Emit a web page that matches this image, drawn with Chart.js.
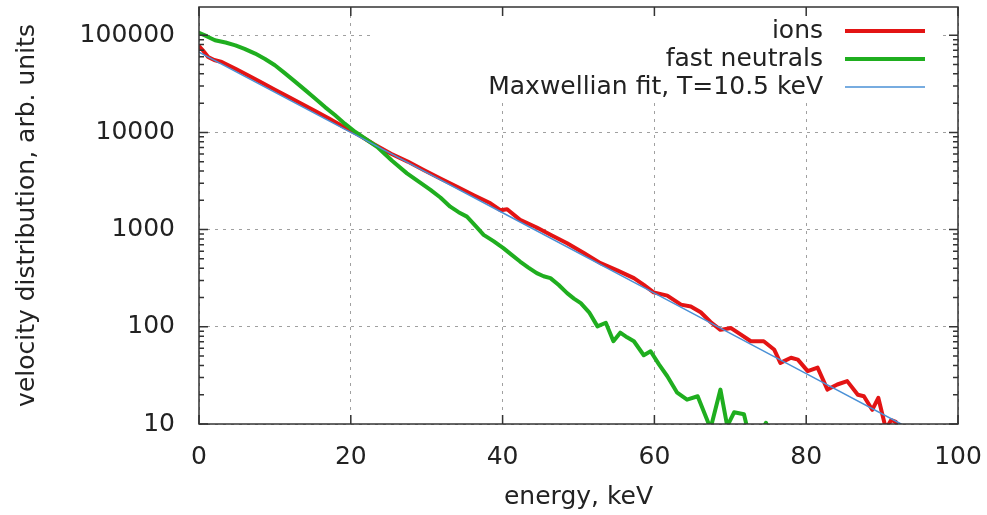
<!DOCTYPE html>
<html>
<head>
<meta charset="utf-8">
<title>velocity distribution</title>
<script src="https://cdn.jsdelivr.net/npm/chart.js@4.4.1/dist/chart.umd.min.js"></script>
<style>
  html, body { margin: 0; padding: 0; background: #fff; }
  #wrap { width: 987px; height: 515px; }
</style>
</head>
<body>
<div id="wrap"><canvas id="chart-energy" width="987" height="515"></canvas></div>
<script>
//IONS DATA (energy keV / arb. units)
var ionEnergy = [0, 0.5, 1.2, 2, 3, 4.8, 6.5, 8.3, 10, 11.7, 13.5, 15.3, 17, 18.8, 21, 23, 25.3, 27.5, 29.6, 31.8,
  34, 36.2, 38.4, 39.7, 40.6, 42.3, 44.5, 46.5, 48.5, 50.7, 52.9, 55.1, 57.3, 58.6, 59.9, 61.7, 63.5, 64.8, 66.1, 67.4,
  68.7, 70.1, 71.4, 72.7, 74.4, 75.8, 76.6, 78, 78.9, 80.2, 81.5, 82.8, 84.1, 85.4, 86.8, 87.6, 88.7, 89.5, 90.5, 91.2,
  91.8, 92.4];
var ionValues = [77000, 70000, 59700, 55600, 53000, 45200, 38500, 32400, 27500, 23400, 19700, 16600, 14100, 11700, 9440,
  7590, 6030, 5010, 4100, 3350, 2760, 2260, 1865, 1585, 1620, 1260, 1050, 870, 724, 575, 452, 380, 317, 270, 226, 209,
  169, 162, 141, 112, 93, 97, 83, 71, 71, 58, 42.5, 48, 46, 35, 38, 22.6, 25.5, 27.6, 20, 19.3, 14, 18.6, 8.9, 11,
  10.5, 7];

//FAST NEUTRALS DATA
var neutralEnergy = [0, 1, 2.1, 3.5, 4.8, 6, 7.4, 8.7, 10, 11.3, 12.7, 14, 15.3, 16.6, 17.9, 19.2, 20.6, 22, 23.5, 25.4,
  27.4, 29, 30.5, 31.8, 33.1, 34.2, 35.3, 36.4, 37.5, 38.8, 40.1, 41.2, 42.3, 43.4, 44.5, 45.4, 46.3, 47.4, 48.5, 49.4,
  50.3, 51.4, 52.5, 53.6, 54.6, 55.5, 56.4, 57.3, 58.6, 59.5, 60.6, 61.7, 63, 64.3, 65.7, 67.4, 68.7, 69.6, 70.5, 71.8,
  72.4, 73.6, 74.7, 75.8];
var neutralValues = [106000, 97700, 88700, 84100, 78700, 72400, 64700, 56900, 49100, 40700, 33100, 27200, 22300, 18200,
  15100, 12300, 10100, 8500, 7080, 5130, 3790, 3090, 2560, 2140, 1720, 1510, 1360, 1100, 883, 760, 644, 550, 469, 407,
  356, 331, 317, 269, 222, 195, 175, 141, 101, 110, 71, 87, 78, 71, 51, 56, 41, 31, 21, 17.8, 19.3, 9, 22.6, 9.5, 13.2,
  12.6, 8, 7, 10.3, 6];

//MAXWELLIAN FIT
var fitEnergy = [0, 20, 40, 60, 80, 92.5];
var fitValues = [67000, 10000, 1490, 222, 33, 10];

//AXES
var xTicks = [0, 20, 40, 60, 80, 100];
var yTicks = [10, 100, 1000, 10000, 100000];
var seriesLabels = ["ions", "fast neutrals", "Maxwellian fit, T=10.5 keV"];
var xTitle = "energy, keV";
var yTitle = "velocity distribution, arb. units";

var FONT = "DejaVu Sans";
var TEXT = "#222";

function toPoints(xs, ys) {
  return xs.map(function (x, i) {
    return { x: x, y: ys[i] };
  });
}

//LEGEND + FRAME (gnuplot look)
var gnuplotLook = {
  id: "gnuplotLook",
  beforeDatasetsDraw: function (chart) {
    var ctx = chart.ctx;
    ctx.save();
    ctx.fillStyle = "#fff";
    ctx.fillRect(372, 9, 569, 93);
    ctx.font = "25px '" + FONT + "'";
    ctx.fillStyle = TEXT;
    ctx.textAlign = "right";
    ctx.textBaseline = "middle";
    chart.data.datasets.forEach(function (ds, i) {
      var y = 31 + i * 28;
      ctx.fillText(ds.label, 823, y);
      ctx.strokeStyle = ds.borderColor;
      ctx.lineWidth = ds.borderWidth;
      ctx.beginPath();
      ctx.moveTo(845, y);
      ctx.lineTo(925, y);
      ctx.stroke();
    });
    ctx.restore();
  },
  afterDatasetsDraw: function (chart) {
    var ctx = chart.ctx;
    var a = chart.chartArea;
    var xs = chart.scales.x;
    var ys = chart.scales.y;
    ctx.save();
    ctx.strokeStyle = "#333";
    ctx.lineWidth = 1.5;
    ctx.beginPath();
    xTicks.forEach(function (v) {
      var px = xs.getPixelForValue(v);
      ctx.moveTo(px, a.bottom); ctx.lineTo(px, a.bottom - 9);
      ctx.moveTo(px, a.top); ctx.lineTo(px, a.top + 9);
    });
    yTicks.forEach(function (v) {
      var py = ys.getPixelForValue(v);
      ctx.moveTo(a.left, py); ctx.lineTo(a.left + 9, py);
      ctx.moveTo(a.right, py); ctx.lineTo(a.right - 9, py);
      for (var m = 2; m <= 9; m++) {
        if (v * m > ys.max) break;
        var pm = ys.getPixelForValue(v * m);
        ctx.moveTo(a.left, pm); ctx.lineTo(a.left + 5, pm);
        ctx.moveTo(a.right, pm); ctx.lineTo(a.right - 5, pm);
      }
    });
    ctx.stroke();
    ctx.strokeRect(a.left, a.top, a.right - a.left, a.bottom - a.top);
    ctx.restore();
  }
};

var config = {
  type: "line",
  data: {
    datasets: [
      {
        label: seriesLabels[0],
        data: toPoints(ionEnergy, ionValues),
        borderColor: "#e31414",
        borderWidth: 4,
        order: 3
      },
      {
        label: seriesLabels[1],
        data: toPoints(neutralEnergy, neutralValues),
        borderColor: "#1fae1f",
        borderWidth: 4,
        order: 2
      },
      {
        label: seriesLabels[2],
        data: toPoints(fitEnergy, fitValues),
        borderColor: "#4a90d6",
        borderWidth: 1.5,
        order: 1
      }
    ]
  },
  options: {
    responsive: false,
    animation: false,
    devicePixelRatio: 1,
    layout: { padding: { top: 7, right: 29, bottom: 0, left: 0 } },
    elements: {
      point: { radius: 0 },
      line: { tension: 0, borderJoinStyle: "round", borderCapStyle: "round" }
    },
    datasets: { line: { clip: 0 } },
    plugins: { legend: { display: false }, tooltip: { enabled: false } },
    scales: {
      x: {
        type: "linear",
        min: 0,
        max: 100,
        afterBuildTicks: function (s) {
          s.ticks = xTicks.map(function (v) { return { value: v }; });
        },
        afterFit: function (s) {
          s.height = 91;
          s.paddingLeft = 0;
          s.paddingRight = 0;
        },
        ticks: { padding: 18, color: TEXT, font: { family: FONT, size: 25 }, maxRotation: 0, autoSkip: false },
        grid: { color: "#a0a0a0", lineWidth: 1, drawTicks: false },
        border: { display: false, dash: [3, 5] },
        title: { display: true, text: xTitle, color: TEXT, font: { family: FONT, size: 25 }, padding: { top: 0, bottom: 3 } }
      },
      y: {
        type: "logarithmic",
        min: 10,
        max: 195000,
        afterBuildTicks: function (s) {
          s.ticks = yTicks.map(function (v) { return { value: v, major: true }; });
        },
        afterFit: function (s) {
          s.width = 199;
          s.paddingTop = 0;
          s.paddingBottom = 0;
        },
        ticks: {
          padding: 24,
          color: TEXT,
          autoSkip: false,
          font: { family: FONT, size: 25 },
          callback: function (v) { return String(v); }
        },
        grid: { color: "#a0a0a0", lineWidth: 1, drawTicks: false },
        border: { display: false, dash: [3, 5] },
        title: { display: true, text: yTitle, color: TEXT, font: { family: FONT, size: 25 }, padding: { top: 12, bottom: 0 } }
      }
    }
  },
  plugins: [gnuplotLook]
};

window.onload = function () {
  var ctx = document.getElementById("chart-energy").getContext("2d");
  window.energyChart = new Chart(ctx, config);
};
</script>
</body>
</html>
